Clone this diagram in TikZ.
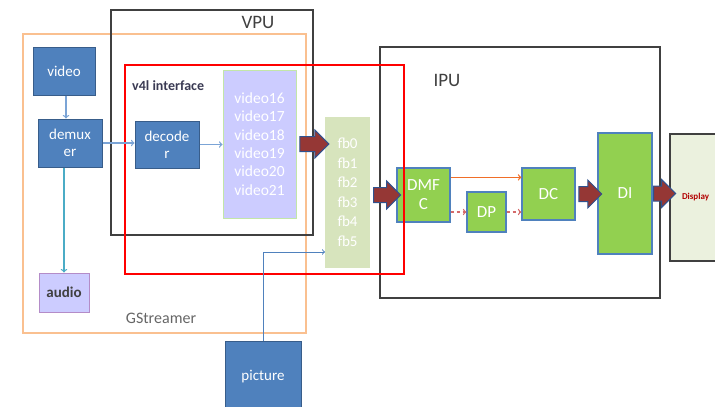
\documentclass[tikz,border=0pt]{standalone}
\usepackage{fontspec}
\setmainfont{Carlito}
\usetikzlibrary{positioning}
\usetikzlibrary{shapes.arrows}
\usetikzlibrary{calc}

\definecolor{blueFill}{HTML}{4F81BD}
\definecolor{blueDraw}{HTML}{385D8A}
\definecolor{lavFill}{HTML}{CCCCFF}
\definecolor{lavDraw}{HTML}{C3E6A8}
\definecolor{audioDraw}{HTML}{B48CC8}
\definecolor{fbFill}{HTML}{D7E4BD}
\definecolor{greenFill}{HTML}{92D050}
\definecolor{dispFill}{HTML}{EBF1DE}
\definecolor{arrowRed}{HTML}{953735}
\definecolor{arrowBlue}{HTML}{2F528F}
\definecolor{gstOrange}{HTML}{FAC090}
\definecolor{thinBlue}{HTML}{7BA4D6}
\definecolor{tealLine}{HTML}{4BACC6}
\definecolor{orangeLine}{HTML}{F06E28}
\definecolor{redLine}{HTML}{D46A6A}
\definecolor{darkText}{HTML}{404040}

\begin{document}
\begin{tikzpicture}
	[x=1pt, y=-1pt,
	bluenode/.style={rectangle, draw=blueDraw, fill=blueFill, line width=1pt, text=white, inner sep=0pt, align=center, font=\fontsize{15}{17}\selectfont},
	lavnode/.style={rectangle, draw=lavDraw, fill=lavFill, line width=1pt, text=white, inner sep=0pt, align=center, font=\fontsize{15.5}{18.4}\selectfont},
	fbnode/.style={rectangle, fill=fbFill, text=white, inner sep=0pt, align=center, font=\fontsize{15}{19.5}\selectfont},
	greennode/.style={rectangle, draw=blueFill, fill=greenFill, line width=1.2pt, text=white, inner sep=0pt, align=center, font=\fontsize{17}{19}\selectfont},
	bigarrow/.style={single arrow, draw=arrowBlue, fill=arrowRed, line width=1pt, inner xsep=0pt, inner ysep=7pt, single arrow head extend=6.5pt},
	thinarrow/.style={->, line width=1.3pt},
	boxlabel/.style={text=darkText, inner sep=0pt, font=\fontsize{19}{21}\selectfont}
	]
	
	\useasboundingbox (0,0) rectangle (715,407);
	
	%Outer boxes
	\draw[gstOrange, line width=1.5pt] (23,34) rectangle (306,333);
	\draw[darkText, line width=2.2pt] (111,10) rectangle (313,235);
	\draw[darkText, line width=2.2pt] (380,47) rectangle (660,298);
	\node(VPU)[boxlabel] at (258,22) {VPU};
	\node(IPU)[boxlabel] at (447,80) {IPU};
	\node(GStreamer)[inner sep=0pt, text=darkText!80, font=\fontsize{16}{18}\selectfont] at (161,318) {GStreamer};
	\node(v4l)[anchor=west, inner sep=0pt, text=darkText!90!blue, font=\bfseries\fontsize{14}{16}\selectfont] at (132,86) {v4l interface};
	
	%GStreamer side
	\node(video)[bluenode, minimum width=62pt, minimum height=48pt] at (64,71) {video};
	\node(demux)[bluenode, minimum width=64pt, minimum height=48pt] at (70,143) {demux\\er};
	\node(audio)[lavnode, draw=audioDraw, text=darkText, font=\bfseries\fontsize{15}{17}\selectfont, minimum width=50pt, minimum height=39pt] at (64,292.5) {audio};
	\node(decoder)[bluenode, minimum width=64pt, minimum height=47pt] at (167,144.5) {decode\\r};
	\node(vid)[lavnode, minimum width=73pt, minimum height=148pt] at (259.5,144) {video16\\video17\\video18\\video19\\video20\\video21};
	\node(fb)[fbnode, minimum width=45pt, minimum height=151pt] at (347.5,192.5) {fb0\\fb1\\fb2\\fb3\\fb4\\fb5};
	\node(pic)[bluenode, minimum width=76pt, minimum height=72pt] at (263,377) {picture};
	\coordinate(picin) at (325,252);
	
	%IPU
	\node(dmfc)[greennode, minimum width=53pt, minimum height=54pt] at (423.5,195) {DMF\\C};
	\node(dp)[greennode, minimum width=39pt, minimum height=40pt] at (486.5,212) {DP};
	\node(dc)[greennode, minimum width=53pt, minimum height=52pt] at (548.5,194) {DC};
	\node(di)[greennode, minimum width=54pt, minimum height=121pt] at (625,193.5) {DI};
	\node(display)[rectangle, draw=darkText, fill=dispFill, line width=1.5pt, minimum width=80pt, minimum height=127pt, text width=64pt, inner xsep=12pt, align=left, text=red!70!black, font=\bfseries\fontsize{9}{11}\selectfont] at (714,197.5) {Display};
	
	%Red v4l box
	\draw[red, line width=1.8pt] (125,65) rectangle (404,274);
	
	%Thin connectors
	\draw[thinarrow, thinBlue] (video.south -| 66,0) -- (66,0 |- demux.north);
	\draw[thinarrow, tealLine] (demux.south -| audio.north) -- (audio.north);
	\draw[thinarrow, thinBlue] (demux.east) -- (demux.east -| decoder.west);
	\draw[thinarrow, thinBlue] (decoder.east) -- (decoder.east -| vid.west);
	\draw[thinarrow, blueFill, line width=1pt] (pic.north) |- (picin);
	\draw[thinarrow, orangeLine] ($(dmfc.north east)+(0,10)$) -- ($(dc.north west)+(0,10)$);
	\draw[thinarrow, redLine, dashed] (dp.west -| dmfc.east) -- (dp.west);
	\draw[thinarrow, redLine, dashed] (dp.east) -- (dp.east -| dc.west);
	
	%Big arrows
	\node(vid2fb)[bigarrow, minimum height=29pt] at ($(vid.east)!0.5!(fb.west |- vid.east)$) {};
	\node(fb2dmfc)[bigarrow, minimum height=27pt] at ($(fb.east |- dmfc.west)!0.5!(dmfc.west)$) {};
	\node(dc2di)[bigarrow, minimum height=23pt] at ($(dc.east)!0.5!(di.west |- dc.east)$) {};
	\node(di2disp)[bigarrow, minimum height=22pt] at ($(di.east)!0.5!(display.west |- di.east)$) {};
	
\end{tikzpicture}
\end{document}
